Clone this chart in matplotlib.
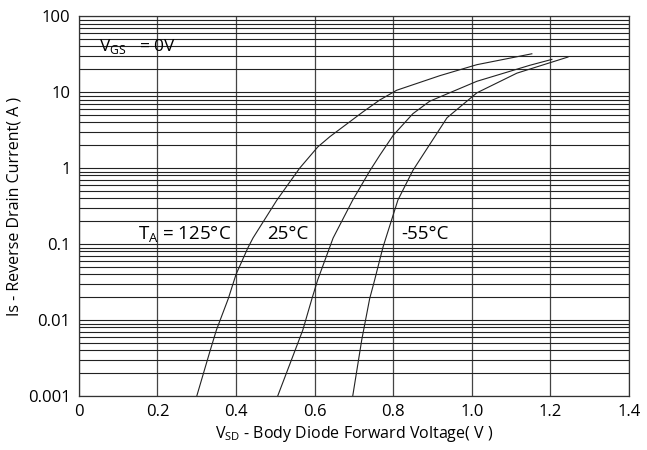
import matplotlib
matplotlib.use('Agg')
import matplotlib.pyplot as plt
from matplotlib.ticker import LogLocator, FixedLocator, NullFormatter

############################### Data ######################################
# 125 degC curve (V, A)
v_125 = [0.30, 0.333, 0.35, 0.38, 0.40, 0.43, 0.443, 0.504, 0.562, 0.608, 0.639, 0.723, 0.766, 0.809, 0.919, 1.013, 1.153]
i_125 = [0.001, 0.0038, 0.0074, 0.019, 0.04, 0.089, 0.12, 0.38, 1.0, 1.9, 2.6, 5.5, 7.9, 10.6, 16.5, 23, 32]
# 25 degC curve
v_25 = [0.506, 0.57, 0.593, 0.608, 0.647, 0.697, 0.741, 0.766, 0.80, 0.85, 0.893, 1.013, 1.148, 1.204]
i_25 = [0.001, 0.0074, 0.019, 0.034, 0.12, 0.38, 0.93, 1.48, 2.7, 5.2, 7.6, 13.9, 22.6, 27]
# -55 degC curve
v_m55 = [0.697, 0.72, 0.74, 0.753, 0.774, 0.812, 0.85, 0.937, 1.013, 1.115, 1.245]
i_m55 = [0.001, 0.0055, 0.019, 0.034, 0.091, 0.38, 0.93, 4.6, 9.8, 17.8, 29]

x_ticks = [0, 0.2, 0.4, 0.6, 0.8, 1.0, 1.2, 1.4]
x_labels = ['0', '0.2', '0.4', '0.6', '0.8', '1.0', '1.2', '1.4']
y_ticks = [0.001, 0.01, 0.1, 1, 10, 100]
y_labels = ['0.001', '0.01', '0.1', '1', '10', '100']

############################### Plot ######################################
plt.rcParams['font.family'] = ['Open Sans', 'DejaVu Sans']
plt.rcParams['mathtext.fontset'] = 'custom'
plt.rcParams['mathtext.rm'] = 'Open Sans'

fig = plt.figure(figsize=(6.47, 4.5), dpi=100)
ax = fig.add_axes([0.122, 0.12, 0.85, 0.844])

ax.set_yscale('log')
ax.set_xlim(0, 1.4)
ax.set_ylim(0.001, 100)

ax.xaxis.set_major_locator(FixedLocator(x_ticks))
ax.set_xticklabels(x_labels)
ax.yaxis.set_major_locator(FixedLocator(y_ticks))
ax.set_yticklabels(y_labels)
ax.yaxis.set_minor_locator(LogLocator(base=10, subs=range(2, 10)))
ax.yaxis.set_minor_formatter(NullFormatter())
ax.tick_params(which='both', length=0, labelsize=12, pad=6)

ax.grid(True, axis='x', which='major', color='#444444', lw=0.9)
ax.grid(True, axis='y', which='both', color='#222222', lw=0.8)
for s in ax.spines.values():
    s.set_color('#333333')
    s.set_linewidth(0.9)

for vx, iy in ((v_125, i_125), (v_25, i_25), (v_m55, i_m55)):
    ax.plot(vx, iy, color='#222222', lw=0.8)

ax.text(0.05, 40, r'V$_{\mathregular{GS}}$   = 0V', fontsize=12.5, va='center')
ax.text(0.15, 0.135, r'T$_{\mathregular{A}}$ = 125°C', fontsize=13.5, va='center')
ax.text(0.48, 0.135, '25°C', fontsize=13.5, va='center')
ax.text(0.82, 0.135, '-55°C', fontsize=13.5, va='center')

ax.set_xlabel(r'V$_{\mathregular{SD}}$ - Body Diode Forward Voltage( V )', fontsize=11.5, labelpad=3)
ax.set_ylabel('Is - Reverse Drain Current( A )', fontsize=11.5, labelpad=4)

fig.savefig('out.png', dpi=100)
